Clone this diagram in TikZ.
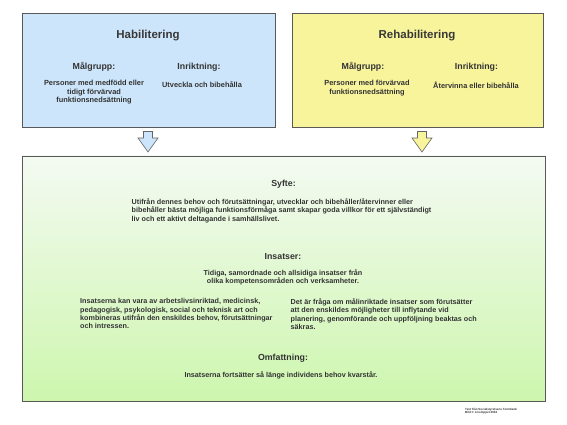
\documentclass[tikz,border=0pt]{standalone}
\usepackage{fontspec}
\setmainfont{Liberation Sans}
\begin{document}
\begin{tikzpicture}[x=1pt,y=-1pt,
  txt/.style={text=black!80, font=\bfseries\fontsize{7.4}{8.6}\selectfont, inner sep=0pt},
  mtxt/.style={text=black!80, font=\bfseries\fontsize{7.2}{8.35}\selectfont, inner sep=0pt},
  ttl/.style={text=black!78, font=\bfseries\fontsize{11.5}{13}\selectfont, inner sep=0pt},
  hd/.style={text=black!80, font=\bfseries\fontsize{8.8}{10}\selectfont, inner sep=0pt},
  panel/.style={draw=black!65, line width=0.7pt},
  blockarrow/.style={draw=black!60, line width=0.6pt, line join=miter}]
\useasboundingbox (0,0) rectangle (567,425);
\definecolor{habblue}{HTML}{CCE5FA}
\definecolor{rehyel}{HTML}{F8F49C}
\definecolor{gtop}{HTML}{F4FAF2}
\definecolor{gbot}{HTML}{CDF6AE}
% panels
\node[panel, fill=habblue, minimum width=253pt, minimum height=114pt, anchor=north west, inner sep=0pt] (hab) at (22,13) {};
\node[panel, fill=rehyel, minimum width=251pt, minimum height=114pt, anchor=north west, inner sep=0pt] (reh) at (292,13) {};
\node[panel, top color=gtop, bottom color=gbot, minimum width=523pt, minimum height=245pt, anchor=north west, inner sep=0pt] (main) at (22,155.5) {};
% block arrows
\coordinate (a1) at (148,131.5);
\coordinate (a2) at (422,131.5);
\foreach \c/\f in {a1/habblue, a2/rehyel}{
  \draw[blockarrow, fill=\f] (\c) ++(-4.5,0) -- ++(9,0) -- ++(0,6.5) -- ++(5.5,0) -- ++(-10,14) -- ++(-10,-14) -- ++(5.5,0) -- cycle;
}
% Habilitering
\node[ttl] (habt) at (148,36) {Habilitering};
\node[hd] (habm) at (94,67) {Målgrupp:};
\node[hd] (habi) at (199,67) {Inriktning:};
\node[txt, align=center, anchor=north] (habmt) at (94,80) {Personer med medfödd eller\\tidigt förvärvad\\funktionsnedsättning};
\node[txt, anchor=north] (habit) at (202,81.5) {Utveckla och bibehålla};
% Rehabilitering
\node[ttl] (reht) at (417,36) {Rehabilitering};
\node[hd] (rehm) at (363,67) {Målgrupp:};
\node[hd] (rehi) at (476.5,67) {Inriktning:};
\node[txt, align=center, anchor=north] (rehmt) at (367,80) {Personer med förvärvad\\funktionsnedsättning};
\node[txt, anchor=north] (rehit) at (476,81.5) {Återvinna eller bibehålla};
% main
\node[hd] (syf) at (283.5,184) {Syfte:};
\node[mtxt, align=left, anchor=north west] (syft) at (131.5,198.5) {Utifrån dennes behov och förutsättningar, utvecklar och bibehåller/återvinner eller\\bibehåller bästa möjliga funktionsförmåga samt skapar goda villkor för ett självständigt\\liv och ett aktivt deltagande i samhällslivet.};
\node[hd] (ins) at (283,257) {Insatser:};
\node[mtxt, align=center, anchor=north] (inst) at (283,269.5) {Tidiga, samordnade och allsidiga insatser från\\olika kompetensområden och verksamheter.};
\node[mtxt, align=left, anchor=north west] (insl) at (80,298.5) {Insatserna kan vara av arbetslivsinriktad, medicinsk,\\pedagogisk, psykologisk, social och teknisk art och\\kombineras utifrån den enskildes behov, förutsättningar\\och intressen.};
\node[mtxt, align=left, anchor=north west] (insr) at (290.5,298.5) {Det är fråga om målinriktade insatser som förutsätter\\att den enskildes möjligheter till inflytande vid\\planering, genomförande och uppföljning beaktas och\\säkras.};
\node[hd] (omf) at (283,358.5) {Omfattning:};
\node[mtxt, anchor=north] (omft) at (281,371.5) {Insatserna fortsätter så länge individens behov kvarstår.};
% credit
\node[text=black!80, font=\bfseries\fontsize{3}{3.6}\selectfont, align=left, anchor=north west, inner sep=0pt] (cred) at (465,407.5) {Text från Socialstyrelsens Termbank\\Bild © Livsloppet 2016};
\end{tikzpicture}
\end{document}
